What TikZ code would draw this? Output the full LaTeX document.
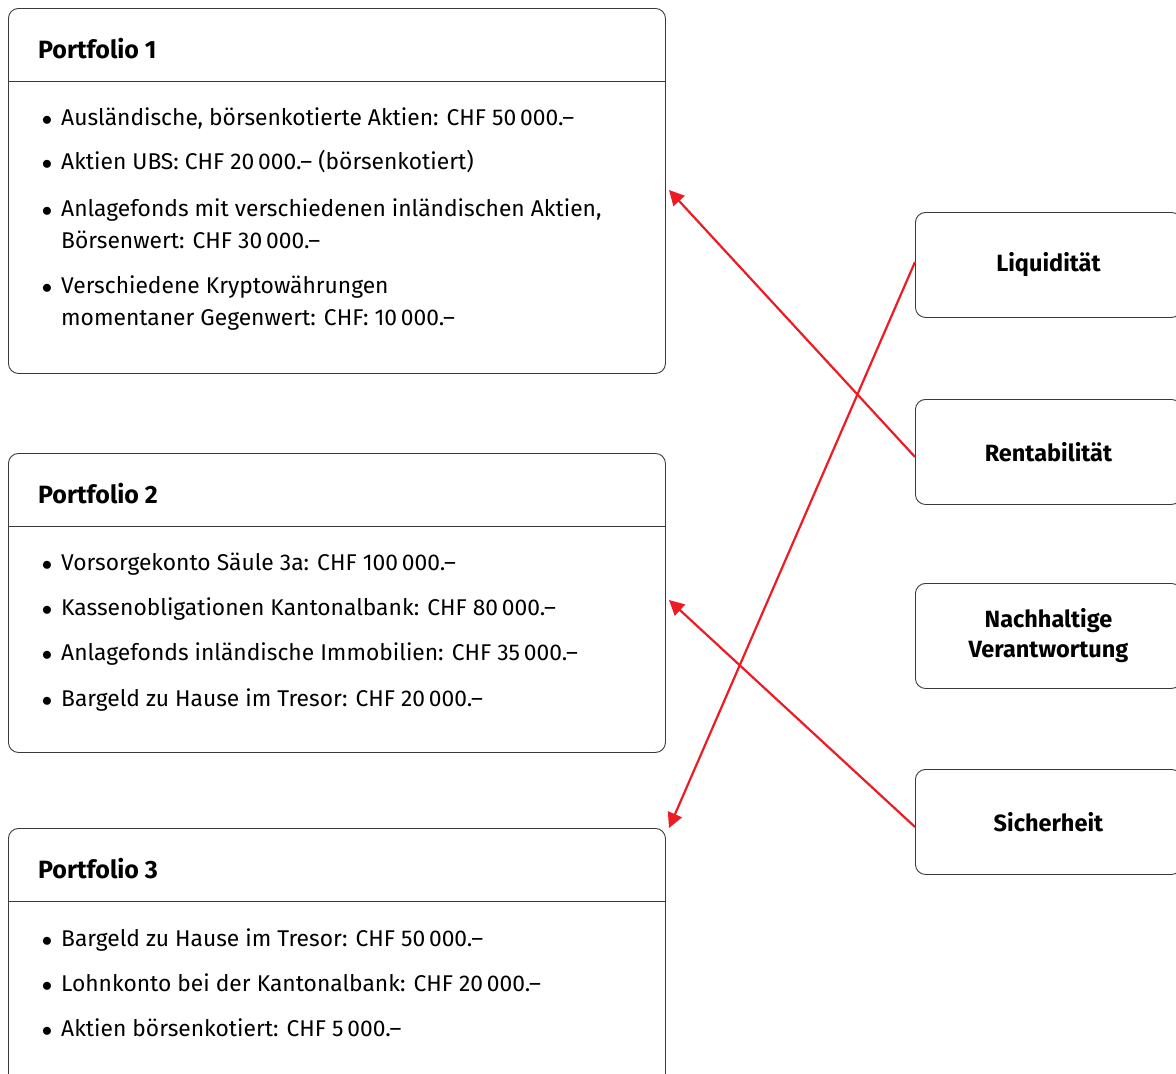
\documentclass[tikz,border=0pt]{standalone}
\usepackage{fontspec}
\setmainfont{Fira Sans}
\usetikzlibrary{arrows.meta,positioning}

\definecolor{arrowred}{HTML}{ED1C24}
\definecolor{boxgray}{HTML}{3A3A3A}

\newcommand{\itembullet}{\llap{$\bullet$\hspace{9pt}}}

\begin{document}
\begin{tikzpicture}[x=1pt,y=-1pt,
    portbox/.style={draw=boxgray,line width=0.9pt,rounded corners=10pt,minimum width=657pt,inner sep=0pt,anchor=north west},
    goalbox/.style={draw=boxgray,line width=0.9pt,rounded corners=10pt,minimum width=266pt,minimum height=105pt,anchor=north west,align=center,font=\bfseries\fontsize{23.5}{30}\selectfont},
    porttitle/.style={anchor=base west,inner sep=0pt,font=\bfseries\fontsize{25}{28}\selectfont},
    portitem/.style={anchor=base west,inner sep=0pt,align=left,font=\fontsize{22.8}{32}\selectfont},
    link/.style={draw=arrowred,line width=2.2pt,-{Triangle[length=15pt,width=15pt]}}
]
    \useasboundingbox (0,0) rectangle (1176,1074);
    \clip (0,0) rectangle (1176,1074);

    % portfolio boxes
    \node[portbox,minimum height=365pt] (p1) at (8,8) {};
    \node[portbox,minimum height=299pt] (p2) at (8,453) {};
    \node[portbox,minimum height=280pt] (p3) at (8,828) {};

    \draw[boxgray,line width=0.9pt] (p1.west |- 0,81) -- (p1.east |- 0,81);
    \draw[boxgray,line width=0.9pt] (p2.west |- 0,526) -- (p2.east |- 0,526);
    \draw[boxgray,line width=0.9pt] (p3.west |- 0,901) -- (p3.east |- 0,901);

    \node[porttitle] (p1title) at (38,58) {Portfolio 1};
    \node[porttitle] (p2title) at (38,503) {Portfolio 2};
    \node[porttitle] (p3title) at (38,878) {Portfolio 3};

    % two-line items sit on the baseline of their last line
    \node[portitem] (p1a) at (61,125) {\itembullet Ausländische, börsenkotierte Aktien: CHF 50\,000.–};
    \node[portitem] (p1b) at (61,169) {\itembullet Aktien UBS: CHF 20\,000.– (börsenkotiert)};
    \node[portitem] (p1c) at (61,248) {\itembullet Anlagefonds mit verschiedenen inländischen Aktien,\\Börsenwert: CHF 30\,000.–};
    \node[portitem] (p1d) at (61,325) {\itembullet Verschiedene Kryptowährungen\\momentaner Gegenwert: CHF: 10\,000.–};

    \node[portitem] (p2a) at (61,570) {\itembullet Vorsorgekonto Säule 3a: CHF 100\,000.–};
    \node[portitem] (p2b) at (61,615) {\itembullet Kassenobligationen Kantonalbank: CHF 80\,000.–};
    \node[portitem] (p2c) at (61,660) {\itembullet Anlagefonds inländische Immobilien: CHF 35\,000.–};
    \node[portitem] (p2d) at (61,706) {\itembullet Bargeld zu Hause im Tresor: CHF 20\,000.–};

    \node[portitem] (p3a) at (61,946) {\itembullet Bargeld zu Hause im Tresor: CHF 50\,000.–};
    \node[portitem] (p3b) at (61,991) {\itembullet Lohnkonto bei der Kantonalbank: CHF 20\,000.–};
    \node[portitem] (p3c) at (61,1036) {\itembullet Aktien börsenkotiert: CHF 5\,000.–};

    % criteria boxes
    \node[goalbox] (liq) at (915,212) {Liquidität};
    \node[goalbox] (rent) at (915,399) {Rentabilität};
    \node[goalbox] (nach) at (915,583) {Nachhaltige\\Verantwortung};
    \node[goalbox] (sich) at (915,769) {Sicherheit};

    % arrow targets
    \coordinate (p1tip) at (669,190);
    \coordinate (p2tip) at (669,600);
    \coordinate (p3tip) at (669,828);

    \draw[link] ([yshift=-5pt]rent.west) -- (p1tip);
    \draw[link] ([yshift=3pt]liq.west) -- (p3tip);
    \draw[link] ([yshift=-5pt]sich.west) -- (p2tip);
\end{tikzpicture}
\end{document}
